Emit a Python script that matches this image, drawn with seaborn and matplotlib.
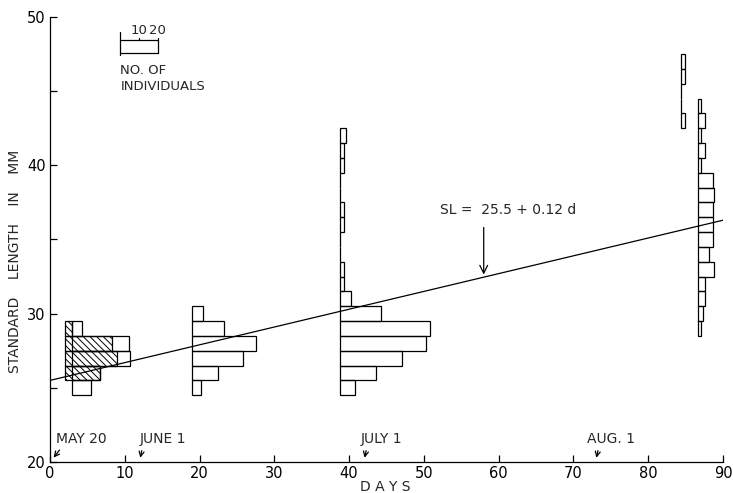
import seaborn as sns
import matplotlib.pyplot as plt
from matplotlib.ticker import MultipleLocator

# length classes (mm) and number of individuals in each sample
may_hatched_bins = [26, 27, 28, 29]
may_hatched_counts = [19, 28, 25, 4]
may_open_bins = [25, 26, 27, 28, 29]
may_open_counts = [10, 15, 31, 30, 5]
june_bins = [25, 26, 27, 28, 29, 30]
june_counts = [5, 14, 27, 34, 17, 6]
july_bins = list(range(25, 43))
july_counts = [8, 19, 33, 46, 48, 22, 6, 2, 2, 0, 0, 2, 2, 0, 0, 2, 2, 3]
aug_a_bins = [43, 44, 45, 46, 47]
aug_a_counts = [2, 0, 0, 2, 2]
aug_b_bins = list(range(29, 45))
aug_b_counts = [2, 3, 4, 4, 9, 6, 8, 8, 8, 9, 8, 2, 4, 2, 4, 2]

# day on which each sample was taken (baseline of histogram)
sample_days = [2, 3, 19, 38.8, 84.4, 86.6]

# regression line SL = 25.5 + 0.12 d
line_days = [0, 90]
line_sl = [25.5, 36.3]

date_labels = ['MAY 20', 'JUNE 1', 'JULY 1', 'AUG. 1']
date_days = [0, 12, 42, 73]
date_text_x = [0.8, 12.0, 41.5, 71.8]

per_day = 4.0  # individuals per day unit on x axis

sns.set_style('ticks')
plt.rcParams['font.family'] = ['DejaVu Sans']
plt.rcParams['hatch.linewidth'] = 0.7

fig = plt.figure(figsize=(7.33, 4.93), dpi=100)
ax = fig.add_axes([50 / 733, 31 / 493, 673 / 733, 445 / 493])

def hist(bins, counts, day, hatch=None, z=2):
    ax.barh(bins, [c / per_day for c in counts], height=1, left=day,
            color='none', edgecolor='black', linewidth=0.9, hatch=hatch,
            zorder=z)

hist(may_open_bins, may_open_counts, sample_days[1])
hist(may_hatched_bins, may_hatched_counts, sample_days[0], hatch='\\\\\\\\\\', z=3)
hist(june_bins, june_counts, sample_days[2])
hist(july_bins, july_counts, sample_days[3])
hist(aug_a_bins, aug_a_counts, sample_days[4])
hist(aug_b_bins, aug_b_counts, sample_days[5])

sns.lineplot(x=line_days, y=line_sl, color='black', linewidth=0.9, ax=ax, zorder=5)

ax.annotate('', xy=(58, 32.45), xytext=(58, 36.0),
            arrowprops=dict(arrowstyle='->', color='black', lw=0.9,
                            mutation_scale=14))
ax.text(52.1, 37.0, 'SL =  25.5 + 0.12 d', fontsize=10, va='center')

# date markers along the time axis
for lab, d, tx in zip(date_labels, date_days, date_text_x):
    ax.text(tx, 21.55, lab, fontsize=10, va='center', ha='left')
    if d == 0:
        ax.annotate('', xy=(0.25, 20.15), xytext=(1.5, 20.95),
                    arrowprops=dict(arrowstyle='->', color='black', lw=0.9,
                                    mutation_scale=9), annotation_clip=False)
    else:
        ax.annotate('', xy=(d, 20.1), xytext=(d + 0.35, 20.95),
                    arrowprops=dict(arrowstyle='->', color='black', lw=0.9,
                                    mutation_scale=9))

# scale bar for number of individuals
x0 = 9.4
ax.plot([x0, x0], [47.44, 49.0], color='black', lw=0.9, clip_on=False)
ax.plot([x0, x0 + 20 / per_day], [48.43, 48.43], color='black', lw=0.9, clip_on=False)
ax.plot([x0, x0 + 20 / per_day], [47.56, 47.56], color='black', lw=0.9, clip_on=False)
ax.plot([x0 + 20 / per_day] * 2, [47.56, 48.6], color='black', lw=0.9, clip_on=False)
ax.plot([x0 + 10 / per_day] * 2, [48.43, 48.6], color='black', lw=0.9, clip_on=False)
ax.text(x0 + 10 / per_day, 48.65, '10', fontsize=9.5, ha='center', va='bottom')
ax.text(x0 + 20 / per_day, 48.65, '20', fontsize=9.5, ha='center', va='bottom')
ax.text(x0, 46.37, 'NO. OF', fontsize=9.5, va='center')
ax.text(x0, 45.3, 'INDIVIDUALS', fontsize=9.5, va='center')

ax.set_xlim(0, 90)
ax.set_ylim(20, 50)
ax.xaxis.set_major_locator(MultipleLocator(10))
ax.yaxis.set_major_locator(MultipleLocator(10))
ax.yaxis.set_minor_locator(MultipleLocator(5))
ax.tick_params(axis='both', which='both', direction='in', length=5, width=0.9,
               labelsize=10.5, colors='black')
ax.tick_params(axis='x', pad=3)
ax.tick_params(axis='y', pad=3)
for s in ['left', 'bottom']:
    ax.spines[s].set_linewidth(0.9)
    ax.spines[s].set_color('black')
sns.despine(ax=ax)
ax.set_xlabel('')
ax.set_ylabel('')

fig.text(15 / 733, 1 - 261 / 493, 'STANDARD    LENGTH    IN    MM', rotation=90,
         ha='center', va='center', fontsize=10)
fig.text(385 / 733, 1 - 487 / 493, 'D A Y S', ha='center', va='center', fontsize=10)

fig.savefig('out.png', dpi=100)
